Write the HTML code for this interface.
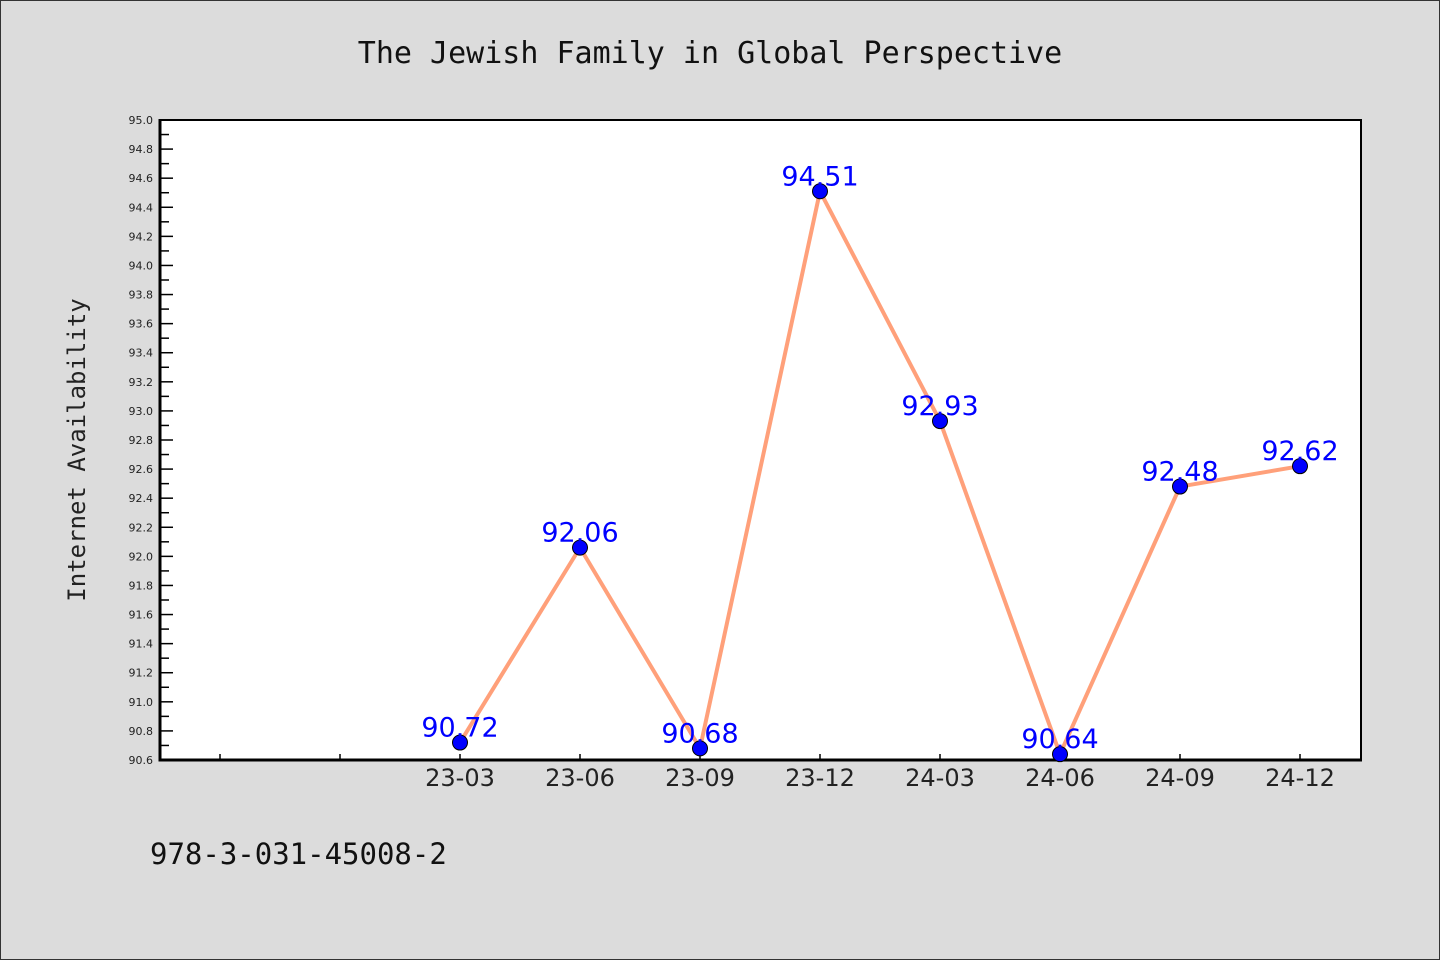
<!DOCTYPE html>
<html><head><meta charset="utf-8"><style>
body{margin:0;background:#dcdcdc;}
svg{display:block;}
</style></head><body>
<svg width="1440" height="960" xmlns="http://www.w3.org/2000/svg">
<rect x="0.5" y="0.5" width="1439" height="959" fill="#dcdcdc" stroke="#333"/>
<text x="710" y="63" text-anchor="middle" font-family="DejaVu Sans Mono, monospace" font-size="30" fill="#111">The Jewish Family in Global Perspective</text>
<rect x="160" y="120" width="1201" height="640" fill="#fff" stroke="#000" stroke-width="2"/>
<g id="yaxis"></g>
<g id="xaxis"></g>
<line x1="160" y1="119" x2="160" y2="761.5" stroke="#000" stroke-width="3"/>
<line x1="158.5" y1="760" x2="1362" y2="760" stroke="#000" stroke-width="3"/>
<text transform="translate(85,450) rotate(-90)" text-anchor="middle" font-family="DejaVu Sans Mono, monospace" font-size="24" fill="#222">Internet Availability</text>
<g id="series"></g>
<text x="150" y="864" font-family="DejaVu Sans Mono, monospace" font-size="29" fill="#111">978-3-031-45008-2</text>
</svg>
<script>
const categories = ["", "", "23-03", "23-06", "23-09", "23-12", "24-03", "24-06", "24-09", "24-12"];
const values = [null, null, 90.72, 92.06, 90.68, 94.51, 92.93, 90.64, 92.48, 92.62];
const valueLabels = ["", "", "90.72", "92.06", "90.68", "94.51", "92.93", "90.64", "92.48", "92.62"];
const yMin = 90.6, yMax = 95.0;
const NS = "http://www.w3.org/2000/svg";
const L = 160, R = 1361, T = 120, B = 760;
function xs(i){ return L + 60 + 120 * i; }
function ys(v){ return B - (v - yMin) / (yMax - yMin) * (B - T); }
function mk(tag, attrs, parent){ const e = document.createElementNS(NS, tag); for (const k in attrs) e.setAttribute(k, attrs[k]); parent.appendChild(e); return e; }
const ya = document.getElementById("yaxis");
for (let k = 0; k <= 44; k++) {
  const v = yMin + k * 0.1, y = ys(v);
  const major = k % 2 === 0;
  const t = mk("line", {x1: L, x2: L + (major ? 13 : 9), y1: y, y2: y, stroke: "#000", "stroke-width": 1.5}, ya);
  
  
  if (major) {
    const tx = mk("text", {x: L - 7, y: y + 4, "text-anchor": "end", "font-family": "DejaVu Sans, sans-serif", "font-size": 11, fill: "#222"}, ya);
    tx.textContent = v.toFixed(1);
    
    
  }
}
const xa = document.getElementById("xaxis");
categories.forEach((c, i) => {
  const x = xs(i);
  const t = mk("line", {x1: x, x2: x, y1: B, y2: B - 6, stroke: "#000", "stroke-width": 1.5}, xa);
  
  
  if (c) {
    const tx = mk("text", {x: x, y: B + 26, "text-anchor": "middle", "font-family": "DejaVu Sans, sans-serif", "font-size": 24, fill: "#222"}, xa);
    tx.textContent = c;
    
    
  }
});
const sg = document.getElementById("series");
const pts = [];
values.forEach((v, i) => { if (v !== null) pts.push([xs(i), ys(v)]); });
const line = mk("polyline", {points: pts.map(p => p.join(",")).join(" "), fill: "none", stroke: "#ffa07a", "stroke-width": 4, "stroke-linejoin": "round"}, sg);


values.forEach((v, i) => {
  if (v === null) return;
  const c = mk("circle", {cx: xs(i), cy: ys(v), r: 7.5, fill: "#0000ff", stroke: "#000", "stroke-width": 1}, sg);
  
  
});
values.forEach((v, i) => {
  if (v === null) return;
  const tx = mk("text", {x: xs(i), y: ys(v) - 6, "text-anchor": "middle", "font-family": "DejaVu Sans, sans-serif", "font-size": 27, fill: "#0000ff"}, sg);
  tx.textContent = valueLabels[i];
  
  
});
</script>
</body></html>
